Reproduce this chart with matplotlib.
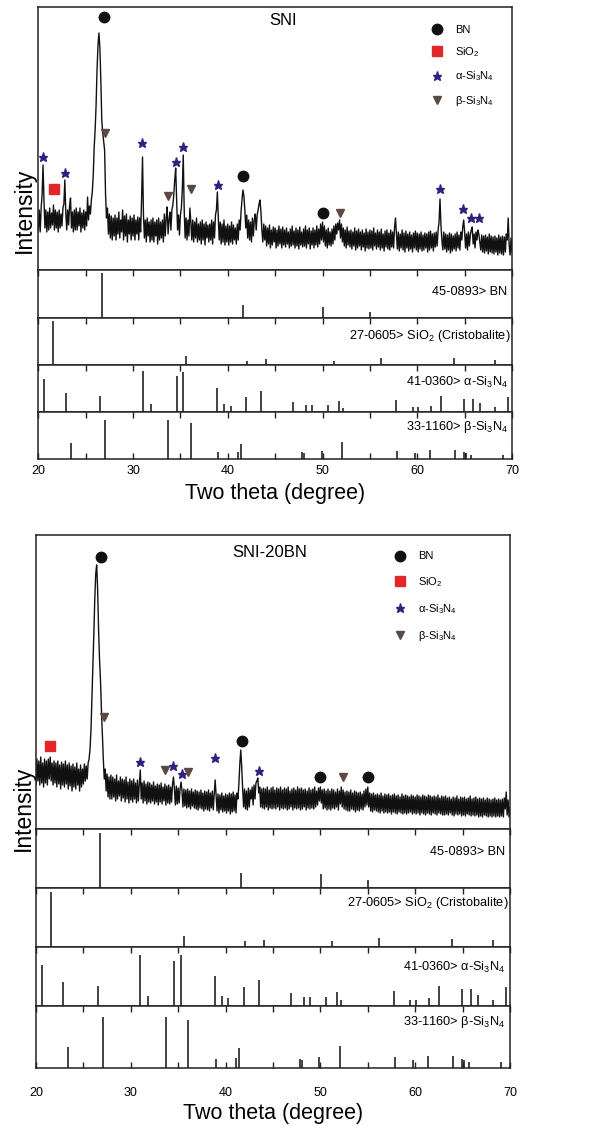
import numpy as np
import matplotlib
matplotlib.use('Agg')
import matplotlib.pyplot as plt
from matplotlib.lines import Line2D

plt.rcParams['font.family'] = ['Liberation Sans', 'DejaVu Sans']
plt.rcParams['mathtext.fontset'] = 'custom'
plt.rcParams['mathtext.rm'] = 'Liberation Sans'
plt.rcParams['mathtext.it'] = 'Liberation Sans:italic'
plt.rcParams['mathtext.bf'] = 'Liberation Sans:bold'

# ---------------- data ----------------
# measured patterns, 0.1 deg steps from 20.0 to 70.0 (arbitrary intensity units)
sni_intensity = [
    40, 60, 38, 62, 75, 105, 70, 42, 60, 38, 58, 40, 62, 42, 57, 45, 65, 40, 60, 42,
    58, 38, 60, 42, 56, 44, 62, 66, 90, 58, 40, 60, 45, 64, 72, 42, 58, 38, 60, 40,
    62, 40, 58, 44, 62, 38, 57, 42, 60, 40, 58, 44, 73, 50, 64, 56, 70, 78, 95, 123,
    140, 165, 200, 225, 237, 222, 190, 150, 137, 128, 120, 75, 52, 62, 36, 56, 32, 54, 30, 52,
    34, 55, 30, 52, 36, 58, 32, 50, 38, 60, 30, 54, 34, 56, 28, 50, 36, 54, 30, 52,
    34, 55, 30, 50, 36, 53, 30, 52, 38, 70, 113, 55, 32, 50, 28, 52, 34, 48, 28, 50,
    30, 52, 28, 48, 34, 50, 26, 52, 30, 48, 32, 50, 28, 56, 34, 52, 63, 36, 50, 58,
    40, 60, 65, 75, 90, 102, 70, 40, 55, 35, 55, 62, 80, 115, 60, 32, 52, 30, 50, 34,
    62, 48, 30, 50, 28, 48, 32, 52, 28, 46, 30, 48, 26, 50, 30, 46, 25, 48, 32, 45,
    28, 46, 30, 50, 26, 48, 32, 55, 60, 78, 52, 30, 48, 26, 46, 28, 50, 25, 44, 28,
    46, 25, 44, 28, 48, 26, 45, 30, 42, 26, 46, 30, 50, 40, 58, 70, 80, 74, 60, 42,
    55, 32, 50, 30, 48, 28, 52, 34, 50, 56, 40, 55, 60, 66, 70, 58, 40, 28, 46, 30,
    44, 24, 42, 26, 45, 22, 40, 25, 43, 28, 42, 22, 40, 24, 44, 26, 41, 22, 43, 25,
    40, 23, 42, 26, 38, 22, 41, 24, 44, 25, 39, 22, 42, 24, 40, 21, 43, 25, 38, 23,
    41, 24, 44, 22, 40, 26, 42, 21, 39, 25, 42, 22, 40, 25, 44, 23, 41, 26, 46, 30,
    48, 28, 44, 24, 40, 22, 42, 25, 38, 24, 41, 26, 44, 30, 46, 36, 47, 40, 50, 32,
    46, 28, 42, 24, 40, 22, 43, 25, 39, 23, 40, 21, 38, 24, 42, 20, 39, 22, 41, 24,
    38, 20, 40, 23, 37, 19, 41, 22, 38, 21, 40, 22, 39, 20, 42, 24, 37, 21, 40, 23,
    38, 20, 41, 22, 36, 19, 39, 23, 40, 21, 37, 20, 40, 23, 38, 22, 42, 52, 36, 21,
    38, 19, 36, 22, 40, 20, 37, 18, 39, 22, 36, 19, 38, 21, 35, 18, 37, 22, 39, 20,
    37, 18, 36, 21, 38, 19, 35, 20, 37, 22, 36, 18, 38, 20, 39, 22, 36, 19, 37, 23,
    38, 24, 40, 48, 71, 45, 30, 20, 38, 21, 36, 18, 35, 20, 37, 17, 36, 19, 34, 21,
    36, 19, 38, 22, 35, 20, 38, 30, 43, 50, 38, 22, 36, 20, 38, 24, 35, 40, 43, 26,
    36, 22, 38, 30, 40, 36, 28, 20, 35, 18, 34, 17, 35, 19, 33, 16, 36, 18, 34, 17,
    33, 16, 34, 18, 32, 15, 35, 17, 33, 16, 34, 15, 33, 18, 36, 30, 52, 25, 15, 32,
    18,
]

sni20bn_intensity = [
    45, 70, 48, 68, 44, 72, 46, 66, 42, 70, 46, 68, 44, 70, 50, 72, 48, 66, 44, 68,
    46, 66, 42, 68, 45, 64, 40, 67, 44, 65, 42, 68, 45, 64, 40, 66, 43, 63, 38, 65,
    42, 62, 40, 66, 44, 60, 38, 64, 42, 60, 45, 65, 48, 63, 50, 66, 70, 80, 99, 130,
    160, 195, 230, 255, 264, 240, 200, 170, 149, 120, 95, 70, 50, 60, 38, 55, 32, 52, 30, 54,
    30, 52, 32, 50, 28, 54, 30, 48, 33, 52, 28, 50, 31, 49, 27, 52, 30, 47, 26, 50,
    29, 48, 27, 50, 30, 46, 26, 49, 28, 45, 59, 30, 46, 26, 48, 28, 45, 25, 47, 27,
    46, 26, 44, 28, 47, 25, 43, 27, 45, 24, 44, 27, 46, 25, 42, 28, 45, 24, 43, 26,
    44, 25, 42, 27, 45, 52, 40, 24, 43, 25, 41, 26, 40, 47, 38, 22, 40, 23, 39, 21,
    40, 22, 38, 20, 40, 23, 37, 21, 39, 20, 38, 19, 37, 21, 39, 20, 36, 18, 38, 20,
    37, 19, 39, 18, 36, 21, 38, 19, 35, 49, 34, 18, 35, 16, 34, 19, 36, 17, 33, 18,
    35, 16, 34, 18, 36, 15, 35, 17, 37, 18, 34, 16, 36, 30, 45, 65, 79, 62, 40, 22,
    40, 20, 38, 19, 41, 22, 39, 30, 42, 24, 44, 30, 46, 48, 51, 36, 42, 22, 40, 21,
    41, 20, 40, 22, 42, 19, 39, 21, 41, 20, 42, 21, 39, 20, 41, 22, 40, 19, 42, 21,
    39, 20, 41, 21, 40, 19, 42, 20, 38, 22, 40, 19, 41, 21, 39, 20, 42, 21, 40, 19,
    41, 20, 39, 22, 40, 19, 38, 21, 41, 20, 39, 21, 40, 20, 42, 22, 38, 24, 41, 28,
    42, 26, 39, 20, 40, 21, 38, 19, 40, 20, 38, 19, 40, 21, 39, 20, 37, 22, 40, 19,
    38, 25, 42, 22, 39, 20, 37, 19, 38, 18, 37, 18, 39, 20, 36, 19, 38, 17, 37, 19,
    36, 18, 37, 20, 35, 19, 38, 22, 40, 24, 42, 22, 36, 18, 35, 17, 36, 19, 34, 18,
    35, 17, 34, 16, 36, 18, 33, 16, 35, 17, 34, 16, 35, 17, 33, 15, 34, 17, 35, 16,
    33, 15, 34, 17, 32, 16, 35, 15, 33, 16, 34, 15, 33, 16, 32, 17, 34, 15, 33, 16,
    32, 15, 34, 16, 33, 14, 32, 16, 34, 15, 33, 14, 32, 16, 34, 15, 33, 14, 32, 16,
    33, 15, 32, 14, 34, 16, 31, 15, 33, 14, 32, 14, 33, 15, 31, 14, 32, 16, 30, 14,
    32, 13, 31, 15, 33, 14, 30, 15, 32, 13, 31, 14, 32, 13, 30, 15, 31, 14, 33, 13,
    30, 14, 31, 13, 32, 14, 30, 12, 31, 13, 30, 12, 31, 14, 29, 13, 31, 12, 30, 13,
    29, 12, 30, 13, 31, 12, 29, 13, 30, 12, 29, 13, 30, 12, 31, 20, 37, 14, 29, 12,
    21,
]

# phase markers (2theta, intensity level)
sni_bn = ([26.9, 41.6, 50.0], [253, 94, 57])
sni_sio2 = ([21.65], [81])
sni_alpha = ([20.5, 22.8, 30.9, 34.5, 35.3, 39.0, 62.4, 64.8, 65.7, 66.5],
             [113, 97, 127, 108, 123, 85, 81, 61, 52, 52])
sni_beta = ([27.0, 33.7, 36.1, 51.8], [137, 74, 81, 57])

bn20_bn = ([26.9, 41.7, 50.0, 55.0], [272, 88, 52, 52])
bn20_sio2 = ([21.5], [83])
bn20_alpha = ([31.0, 34.45, 35.4, 38.85, 43.5], [67, 63, 55, 71, 58])
bn20_beta = ([27.2, 33.6, 36.0, 52.4], [112, 59, 57, 52])

# reference cards (2theta, relative intensity)
bn_card_x = [26.75, 41.6, 50.05, 55.0]
bn_card_i = [100, 28, 25, 14]
sio2_card_x = [21.6, 35.6, 42.05, 44.05, 51.25, 56.15, 63.9, 68.25]
sio2_card_i = [100, 20, 10, 13, 10, 16, 15, 12]
alpha_card_x = [20.6, 22.9, 26.5, 31.0, 31.85, 34.6, 35.3, 38.9, 39.6, 40.3, 41.9,
                43.5, 46.9, 48.3, 48.9, 50.6, 51.7, 52.2, 57.8, 59.5, 60.1, 61.5,
                62.5, 64.9, 65.9, 66.6, 68.2, 69.6]
alpha_card_i = [75, 44, 36, 93, 18, 81, 92, 55, 18, 14, 34, 47, 23, 16, 16, 17, 25,
                10, 28, 11, 11, 14, 36, 30, 30, 20, 11, 34]
beta_card_x = [23.4, 27.07, 33.7, 36.07, 38.95, 41.1, 41.4, 47.8, 48.05, 49.9, 52.1,
               57.9, 59.8, 61.3, 64.0, 64.9, 65.1, 65.7, 69.1]
beta_card_i = [37, 88, 88, 82, 16, 17, 34, 15, 14, 19, 38, 19, 14, 21, 21, 15, 14, 10, 10]

card_labels = ['45-0893> BN', '27-0605> SiO$_2$ (Cristobalite)',
               '41-0360> α-Si$_3$N$_4$', '33-1160> β-Si$_3$N$_4$']
legend_labels = ['BN', 'SiO$_2$', 'α-Si$_3$N$_4$', 'β-Si$_3$N$_4$']
tick_values = [20, 30, 40, 50, 60, 70]

# ---------------- drawing ----------------
W, H = 597, 1126
fig = plt.figure(figsize=(W / 100, H / 100), dpi=100)

C_BN = '#111111'
C_SIO2 = '#e3262a'
C_ALPHA = '#2c2180'
C_BETA = '#5a4a44'
SPINE = '#222222'


def rect(left, top, right, bottom):
    return [left / W, 1 - bottom / H, (right - left) / W, (bottom - top) / H]


def style_spines(ax):
    for s in ax.spines.values():
        s.set_color(SPINE)
        s.set_linewidth(1.1)


def make_block(left, right, top, main_bottom, bounds, pattern, ymax, marks,
               title, title_xy, legend_xy, legend_spacing, label_ypos, label_xr,
               tick_pad, xlabel_y, ylabel_xy):
    x = 20 + 0.1 * np.arange(len(pattern))
    ax = fig.add_axes(rect(left, top, right, main_bottom))
    ax.plot(x, pattern, color='#111111', lw=1.0)
    bn, sio2, alpha, beta = marks
    ax.plot(bn[0], bn[1], 'o', color=C_BN, ms=7.5, ls='none', zorder=5)
    ax.plot(sio2[0], sio2[1], 's', color=C_SIO2, ms=6.5, ls='none', zorder=5)
    ax.plot(alpha[0], alpha[1], '*', color=C_ALPHA, ms=6.5, ls='none', zorder=5)
    ax.plot(beta[0], beta[1], 'v', color=C_BETA, ms=5.5, ls='none', zorder=5)
    ax.set_xlim(20, 70)
    ax.set_ylim(0, ymax)
    ax.set_xticks([])
    ax.set_yticks([])
    style_spines(ax)
    ax.text(title_xy[0], title_xy[1], title, transform=ax.transAxes,
            ha='center', va='center', fontsize=12)
    handles = [
        Line2D([], [], marker='o', color=C_BN, ls='none', ms=7.5),
        Line2D([], [], marker='s', color=C_SIO2, ls='none', ms=6.5),
        Line2D([], [], marker='*', color=C_ALPHA, ls='none', ms=6.5),
        Line2D([], [], marker='v', color=C_BETA, ls='none', ms=5.5),
    ]
    ax.legend(handles, legend_labels, loc='upper left', bbox_to_anchor=legend_xy,
              frameon=False, fontsize=8, handlelength=1.0, handletextpad=1.1,
              labelspacing=legend_spacing, borderpad=0, borderaxespad=0)

    cards = [(bn_card_x, bn_card_i), (sio2_card_x, sio2_card_i),
             (alpha_card_x, alpha_card_i), (beta_card_x, beta_card_i)]
    for k, (cx, ci) in enumerate(cards):
        rax = fig.add_axes(rect(left, bounds[k], right, bounds[k + 1]))
        rax.vlines(cx, 0, ci, color='#222222', lw=1.2)
        rax.set_xlim(20, 70)
        rax.set_ylim(0, 107)
        rax.set_yticks([])
        rax.set_xticks(tick_values)
        rax.set_xticks([25, 35, 45, 55, 65], minor=True)
        last = (k == 3)
        rax.tick_params(axis='x', which='both', direction='in', top=True,
                        bottom=last, labelbottom=last, length=4, width=1.0,
                        color=SPINE, labelsize=9, pad=tick_pad)
        style_spines(rax)
        rax.text(label_xr[k], label_ypos[k], card_labels[k], transform=rax.transAxes,
                 ha='right', va='center', fontsize=9.2)
    fig.text((left + right) / 2 / W, 1 - xlabel_y / H, 'Two theta (degree)',
             ha='center', va='center', fontsize=15.5)
    fig.text(ylabel_xy[0] / W, 1 - ylabel_xy[1] / H, 'Intensity', rotation=90,
             ha='center', va='center', fontsize=16.5)


make_block(38.3, 512, 7, 270, [270, 318, 365, 412, 459], sni_intensity, 263,
           (sni_bn, sni_sio2, sni_alpha, sni_beta),
           'SNI', (0.517, 0.947), (0.830, 0.933), 0.95,
           [0.55, 0.62, 0.62, 0.68], [0.989, 0.998, 0.992, 0.992],
           4.5, 493, (24, 210))

make_block(36, 510, 535, 829, [829, 888, 947, 1006, 1068], sni20bn_intensity, 294,
           (bn20_bn, bn20_sio2, bn20_alpha, bn20_beta),
           'SNI-20BN', (0.494, 0.939), (0.756, 0.944), 1.2,
           [0.61, 0.75, 0.66, 0.74], [0.989, 0.998, 0.989, 0.989],
           14, 1113, (23, 808))

fig.savefig('out.png', dpi=100, facecolor='white')
